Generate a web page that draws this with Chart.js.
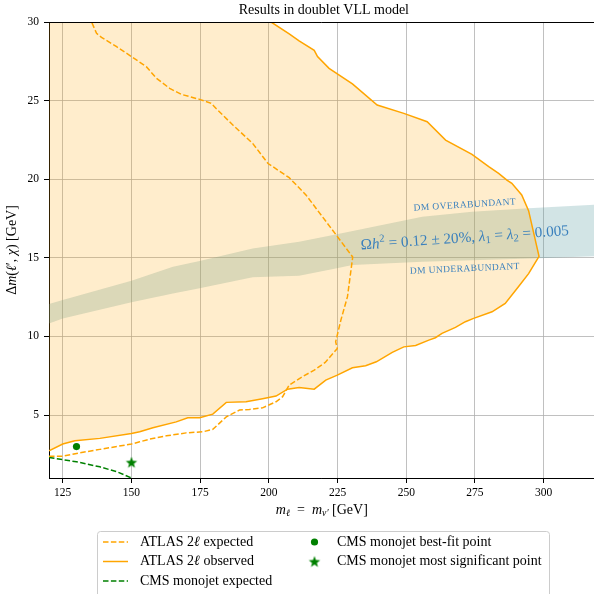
<!DOCTYPE html>
<html>
<head>
<meta charset="utf-8">
<script src="https://cdn.jsdelivr.net/npm/chart.js@4.4.1/dist/chart.umd.min.js"></script>
<style>
  html, body { margin: 0; padding: 0; background: #fff; overflow: hidden; width: 594px; height: 594px; }
  canvas { display: block; }
</style>
</head>
<body>
<canvas id="chart" width="594" height="594" style="width:594px;height:594px"></canvas>
<script>
// Axis ticks and view limits
const xTicks = [125, 150, 175, 200, 225, 250, 275, 300];
const yTicks = [5, 10, 15, 20, 25, 30];
const xRange = [120, 318.3];
const yRange = [1, 30];

// ATLAS 2l observed contour: lower branch (left to right, up to the tip)
const obsLowerX = [120, 125, 129.4, 138.5, 150, 153, 157.8, 166.3, 170.5, 174.8, 179.6, 184.5, 191.7, 197.7, 202.6, 206.8, 211, 216.5, 220.7, 224.9, 230.4, 235.2, 239.1, 244.9, 249.1, 253.4, 258.2, 260.6, 263, 267.9, 271.5, 274.5, 281.2, 286, 290.8, 294.5, 298.3];
const obsLowerY = [2.73, 3.16, 3.37, 3.52, 3.83, 3.94, 4.19, 4.57, 4.83, 4.83, 5.06, 5.81, 5.85, 6.04, 6.21, 6.65, 6.76, 6.65, 7.23, 7.54, 8.01, 8.14, 8.39, 8.99, 9.34, 9.43, 9.77, 9.92, 10.2, 10.58, 10.94, 11.15, 11.57, 12.1, 13.16, 14.0, 15.1];
// ATLAS 2l observed contour: upper branch (from the top edge to the tip)
const obsUpperX = [200.8, 207.4, 211, 216.5, 217.7, 221.9, 230.4, 239.4, 249.1, 257.6, 264.3, 273.9, 280, 283.6, 286.6, 288.4, 292, 294.5, 298.3];
const obsUpperY = [30, 29.25, 28.8, 28.2, 27.8, 27.05, 26.06, 24.72, 24.19, 23.66, 22.49, 21.58, 20.8, 20.37, 19.95, 19.74, 19.0, 18.0, 15.1];

// ATLAS 2l expected contour (in drawing order)
const expX = [120, 125.2, 131.2, 138.5, 150, 153, 156.6, 162.7, 169.9, 176, 179.6, 184.5, 189.3, 192.9, 197.7, 202.6, 205, 207.4, 212.2, 216.5, 220.5, 224.9, 224.3, 226.2, 228.6, 230.5, 224.3, 219.5, 213.5, 207.4, 199.7, 194.1, 186.9, 180.8, 179, 174.8, 168.1, 163.9, 159.1, 155.4, 150, 144.6, 139.1, 137.3, 135.5];
const expY = [2.39, 2.39, 2.60, 2.82, 3.16, 3.30, 3.47, 3.68, 3.87, 3.94, 4.09, 4.89, 5.32, 5.36, 5.46, 5.85, 6.17, 6.91, 7.44, 7.86, 8.35, 9.24, 9.66, 11.04, 12.53, 15.05, 16.5, 17.61, 19.0, 20.1, 21.0, 22.28, 23.45, 24.5, 24.83, 25.08, 25.4, 25.78, 26.42, 27.16, 27.8, 28.43, 29.02, 29.28, 30];

// CMS monojet expected
const cmsExpX = [120, 130, 138.5, 145, 150];
const cmsExpY = [2.31, 2.03, 1.71, 1.38, 1.0];

// CMS monojet points
const bestFit = [130, 3.0];
const mostSignificant = [150, 2.0];

// Relic-density band (Omega h^2 = 0.12 +- 20%)
const relicUpX = [120, 125, 150, 165.1, 174.8, 194.1, 211, 224.3, 255.8, 273.9, 294.5, 320];
const relicUpY = [12.06, 12.32, 13.55, 14.43, 14.8, 15.6, 16.02, 16.49, 17.61, 17.93, 18.15, 18.4];
const relicLoX = [120, 125, 150, 165.1, 174.8, 194.1, 211, 224.3, 230.4, 255.8, 298.1, 320];
const relicLoY = [10.83, 11.15, 12.17, 12.74, 13.06, 13.76, 13.86, 14.33, 14.54, 14.75, 14.97, 15.12];

const SERIF = '"Liberation Serif", "DejaVu Serif", serif';
const ORANGE = '#ffa500';
const GREEN = '#008000';
const TEXTBLUE = '#3a80bd';

function pts(xs, ys) { return xs.map((x, i) => ({ x: x, y: ys[i] })); }

// Filled five-pointed star used as a marker
function makeStar(r, color) {
  const c = document.createElement('canvas');
  const s = Math.ceil(r * 2 + 2);
  c.width = s; c.height = s;
  const g = c.getContext('2d');
  g.translate(s / 2, s / 2 + r * 0.1);
  g.beginPath();
  for (let i = 0; i < 10; i++) {
    const rr = i % 2 === 0 ? r : r * 0.42;
    const a = -Math.PI / 2 + i * Math.PI / 5;
    const px = rr * Math.cos(a), py = rr * Math.sin(a);
    if (i === 0) g.moveTo(px, py); else g.lineTo(px, py);
  }
  g.closePath();
  g.fillStyle = color;
  g.fill();
  return c;
}
const starImg = makeStar(6, GREEN);

// Rich text: runs of [text, style] where style may contain i (italic), sub, sup
function runFont(st, size) {
  const small = st && (st.includes('sub') || st.includes('sup'));
  const s = small ? size * 0.7 : size;
  return ((st && st.includes('i')) ? 'italic ' : '') + s + 'px ' + SERIF;
}
function richWidth(ctx, runs, size) {
  let w = 0;
  for (const [t, st] of runs) {
    ctx.font = runFont(st, size);
    w += ctx.measureText(t).width;
  }
  return w;
}
function drawRich(ctx, runs, x, y, size, color, angle) {
  ctx.save();
  ctx.translate(x, y);
  ctx.rotate(angle || 0);
  ctx.fillStyle = color;
  ctx.textBaseline = 'middle';
  ctx.textAlign = 'left';
  let cx = -richWidth(ctx, runs, size) / 2;
  for (const [t, st] of runs) {
    ctx.font = runFont(st, size);
    let dy = 0;
    if (st && st.includes('sub')) dy = size * 0.25;
    if (st && st.includes('sup')) dy = -size * 0.35;
    ctx.fillText(t, cx, dy);
    cx += ctx.measureText(t).width;
  }
  ctx.restore();
}

const titleText = 'Results in doublet VLL model';
const xLabelRuns = [['m', 'i'], ['ℓ', 'i sub'], ['  =  ', ''], ['m', 'i'], ['ν′', 'i sub'], [' [GeV]', '']];
const yLabelRuns = [['Δ', ''], ['m', 'i'], ['(', ''], ['ℓ', 'i'], ['′, ', ''], ['χ', 'i'], [') [GeV]', '']];
const relicRuns = [['Ω', ''], ['h', 'i'], ['2', 'sup'], [' = 0.12 ± 20%, ', ''], ['λ', 'i'], ['1', 'sub'], [' = ', ''], ['λ', 'i'], ['2', 'sub'], [' = 0.005', '']];

// Labels placed on the plot in data coordinates: [text, x, y, angle(deg)]
const overLabel = ['DM OVERABUNDANT', 271.3, 18.36, -3.6];
const relicLabel = [271.3, 16.25, -4.0];
const underLabel = ['DM UNDERABUNDANT', 271.3, 14.3, -2.6];

const decorations = {
  id: 'decorations',
  afterDatasetsDraw(chart) {
    const ctx = chart.ctx;
    const xs = chart.scales.x, ys = chart.scales.y;
    const deg = Math.PI / 180;
    for (const [t, vx, vy, a] of [overLabel, underLabel]) {
      ctx.save();
      ctx.translate(xs.getPixelForValue(vx), ys.getPixelForValue(vy));
      ctx.rotate(a * deg);
      ctx.font = '9.5px ' + SERIF;
      ctx.fillStyle = TEXTBLUE;
      ctx.textAlign = 'center';
      ctx.textBaseline = 'middle';
      ctx.letterSpacing = '0.4px';
      ctx.fillText(t, 0, 0);
      ctx.restore();
    }
    drawRich(ctx, relicRuns, xs.getPixelForValue(relicLabel[0]), ys.getPixelForValue(relicLabel[1]), 15.2, TEXTBLUE, relicLabel[2] * deg);
  },
  afterDraw(chart) {
    const ctx = chart.ctx;
    const a = chart.chartArea;
    const xs = chart.scales.x;
    // centre of the full 120-320 frame
    const midX = xs.getPixelForValue(220);

    // top spine
    ctx.save();
    ctx.strokeStyle = '#000';
    ctx.lineWidth = 1;
    ctx.beginPath();
    ctx.moveTo(a.left, a.top + 0.5);
    ctx.lineTo(a.right, a.top + 0.5);
    ctx.stroke();
    ctx.restore();

    // title
    ctx.save();
    ctx.font = '14px ' + SERIF;
    ctx.fillStyle = '#000';
    ctx.textAlign = 'center';
    ctx.textBaseline = 'middle';
    ctx.fillText(titleText, midX, 10.5);
    ctx.restore();

    // axis titles
    drawRich(ctx, xLabelRuns, midX - 2, 510, 14, '#000', 0);
    drawRich(ctx, yLabelRuns, 12, (a.top + a.bottom) / 2, 14, '#000', -Math.PI / 2);

    // legend, column-major
    const order = [5, 4, 6, 7, 8];
    const colHandle = [103, 302];
    const colText = [140, 337];
    const rowY = [542, 561.5, 581];
    ctx.save();
    ctx.beginPath();
    ctx.roundRect(97.5, 531.5, 452, 80, 3);
    ctx.fillStyle = 'rgba(255,255,255,0.8)';
    ctx.fill();
    ctx.strokeStyle = '#cccccc';
    ctx.lineWidth = 1;
    ctx.stroke();
    ctx.restore();
    order.forEach((di, k) => {
      const ds = chart.data.datasets[di];
      const col = Math.floor(k / 3), row = k % 3;
      const hx = colHandle[col], y = rowY[row];
      ctx.save();
      if (ds.showLine) {
        ctx.strokeStyle = ds.borderColor;
        ctx.lineWidth = ds.borderWidth;
        ctx.setLineDash(ds.borderDash || []);
        ctx.beginPath();
        ctx.moveTo(hx, y);
        ctx.lineTo(hx + 25, y);
        ctx.stroke();
      } else if (ds.pointStyle === 'circle') {
        ctx.fillStyle = ds.pointBackgroundColor;
        ctx.beginPath();
        ctx.arc(hx + 12.5, y, ds.pointRadius, 0, Math.PI * 2);
        ctx.fill();
      } else {
        ctx.drawImage(ds.pointStyle, hx + 12.5 - ds.pointStyle.width / 2, y - ds.pointStyle.height / 2);
      }
      ctx.restore();
      ctx.save();
      ctx.fillStyle = '#000';
      ctx.textAlign = 'left';
      ctx.textBaseline = 'middle';
      const label = ds.label;
      const parts = label.includes('ℓ') ? [[label.split('ℓ')[0], ''], ['ℓ', 'i'], [label.split('ℓ')[1], '']] : [[label, '']];
      let w = 0;
      for (const [t, st] of parts) {
        ctx.font = runFont(st, 14);
        ctx.fillText(t, colText[col] + w, y);
        w += ctx.measureText(t).width;
      }
      ctx.restore();
    });
  }
};

const lineBase = { showLine: true, pointRadius: 0, pointHoverRadius: 0, tension: 0, fill: false };

const obsContourX = obsLowerX.concat(obsUpperX.slice(0, -1).reverse());
const obsContourY = obsLowerY.concat(obsUpperY.slice(0, -1).reverse());

const datasets = [
  // 0,1: relic band
  Object.assign({}, lineBase, { label: 'relic upper', data: pts(relicUpX, relicUpY), borderWidth: 0, borderColor: 'rgba(0,0,0,0)', backgroundColor: 'rgba(95,158,160,0.28)', fill: 1, order: 10 }),
  Object.assign({}, lineBase, { label: 'relic lower', data: pts(relicLoX, relicLoY), borderWidth: 0, borderColor: 'rgba(0,0,0,0)', order: 10 }),
  // 2,3: excluded region (observed)
  Object.assign({}, lineBase, { label: 'excluded top', data: pts([120].concat(obsUpperX), [30].concat(obsUpperY)), borderWidth: 0, borderColor: 'rgba(0,0,0,0)', backgroundColor: 'rgba(255,165,0,0.2)', fill: 3, order: 8 }),
  Object.assign({}, lineBase, { label: 'excluded bottom', data: pts(obsLowerX, obsLowerY), borderWidth: 0, borderColor: 'rgba(0,0,0,0)', order: 8 }),
  // 4: observed contour
  Object.assign({}, lineBase, { label: 'ATLAS 2ℓ observed', data: pts(obsContourX, obsContourY), borderColor: ORANGE, borderWidth: 1.5, order: 3 }),
  // 5: expected contour
  Object.assign({}, lineBase, { label: 'ATLAS 2ℓ expected', data: pts(expX, expY), borderColor: ORANGE, borderWidth: 1.5, borderDash: [5.5, 2.4], order: 2 }),
  // 6: CMS expected
  Object.assign({}, lineBase, { label: 'CMS monojet expected', data: pts(cmsExpX, cmsExpY), borderColor: GREEN, borderWidth: 1.5, borderDash: [5.5, 2.4], order: 2 }),
  // 7,8: CMS points
  { label: 'CMS monojet best-fit point', data: [{ x: bestFit[0], y: bestFit[1] }], showLine: false, pointStyle: 'circle', pointRadius: 3.6, pointHoverRadius: 3.6, pointBackgroundColor: GREEN, pointBorderWidth: 0, pointBorderColor: GREEN, order: 1 },
  { label: 'CMS monojet most significant point', data: [{ x: mostSignificant[0], y: mostSignificant[1] }], showLine: false, pointStyle: starImg, pointRadius: 6, pointHoverRadius: 6, pointBackgroundColor: GREEN, order: 1 }
];

const tickFont = { family: SERIF, size: 11.5 };

new Chart(document.getElementById('chart'), {
  type: 'scatter',
  data: { datasets: datasets },
  options: {
    responsive: false,
    animation: false,
    devicePixelRatio: 1,
    layout: { autoPadding: false, padding: { left: 0, right: 0, top: 22, bottom: 86 } },
    plugins: { legend: { display: false }, tooltip: { enabled: false }, title: { display: false } },
    scales: {
      x: {
        type: 'linear', min: xRange[0], max: xRange[1],
        afterBuildTicks: s => { s.ticks = xTicks.map(v => ({ value: v })); },
        afterFit: s => { s.height = 30; },
        ticks: { font: tickFont, color: '#000', padding: 3, maxRotation: 0, autoSkip: false },
        grid: { color: '#b0b0b0', lineWidth: 0.8, tickColor: '#000', tickLength: 5, tickWidth: 1 },
        border: { color: '#000', width: 1 }
      },
      y: {
        type: 'linear', min: yRange[0], max: yRange[1],
        afterBuildTicks: s => { s.ticks = yTicks.map(v => ({ value: v })); },
        afterFit: s => { s.width = 49; },
        ticks: { font: tickFont, color: '#000', padding: 5, autoSkip: false },
        grid: { color: '#b0b0b0', lineWidth: 0.8, tickColor: '#000', tickLength: 5, tickWidth: 1 },
        border: { color: '#000', width: 1 }
      }
    }
  },
  plugins: [decorations]
});
</script>
</body>
</html>
